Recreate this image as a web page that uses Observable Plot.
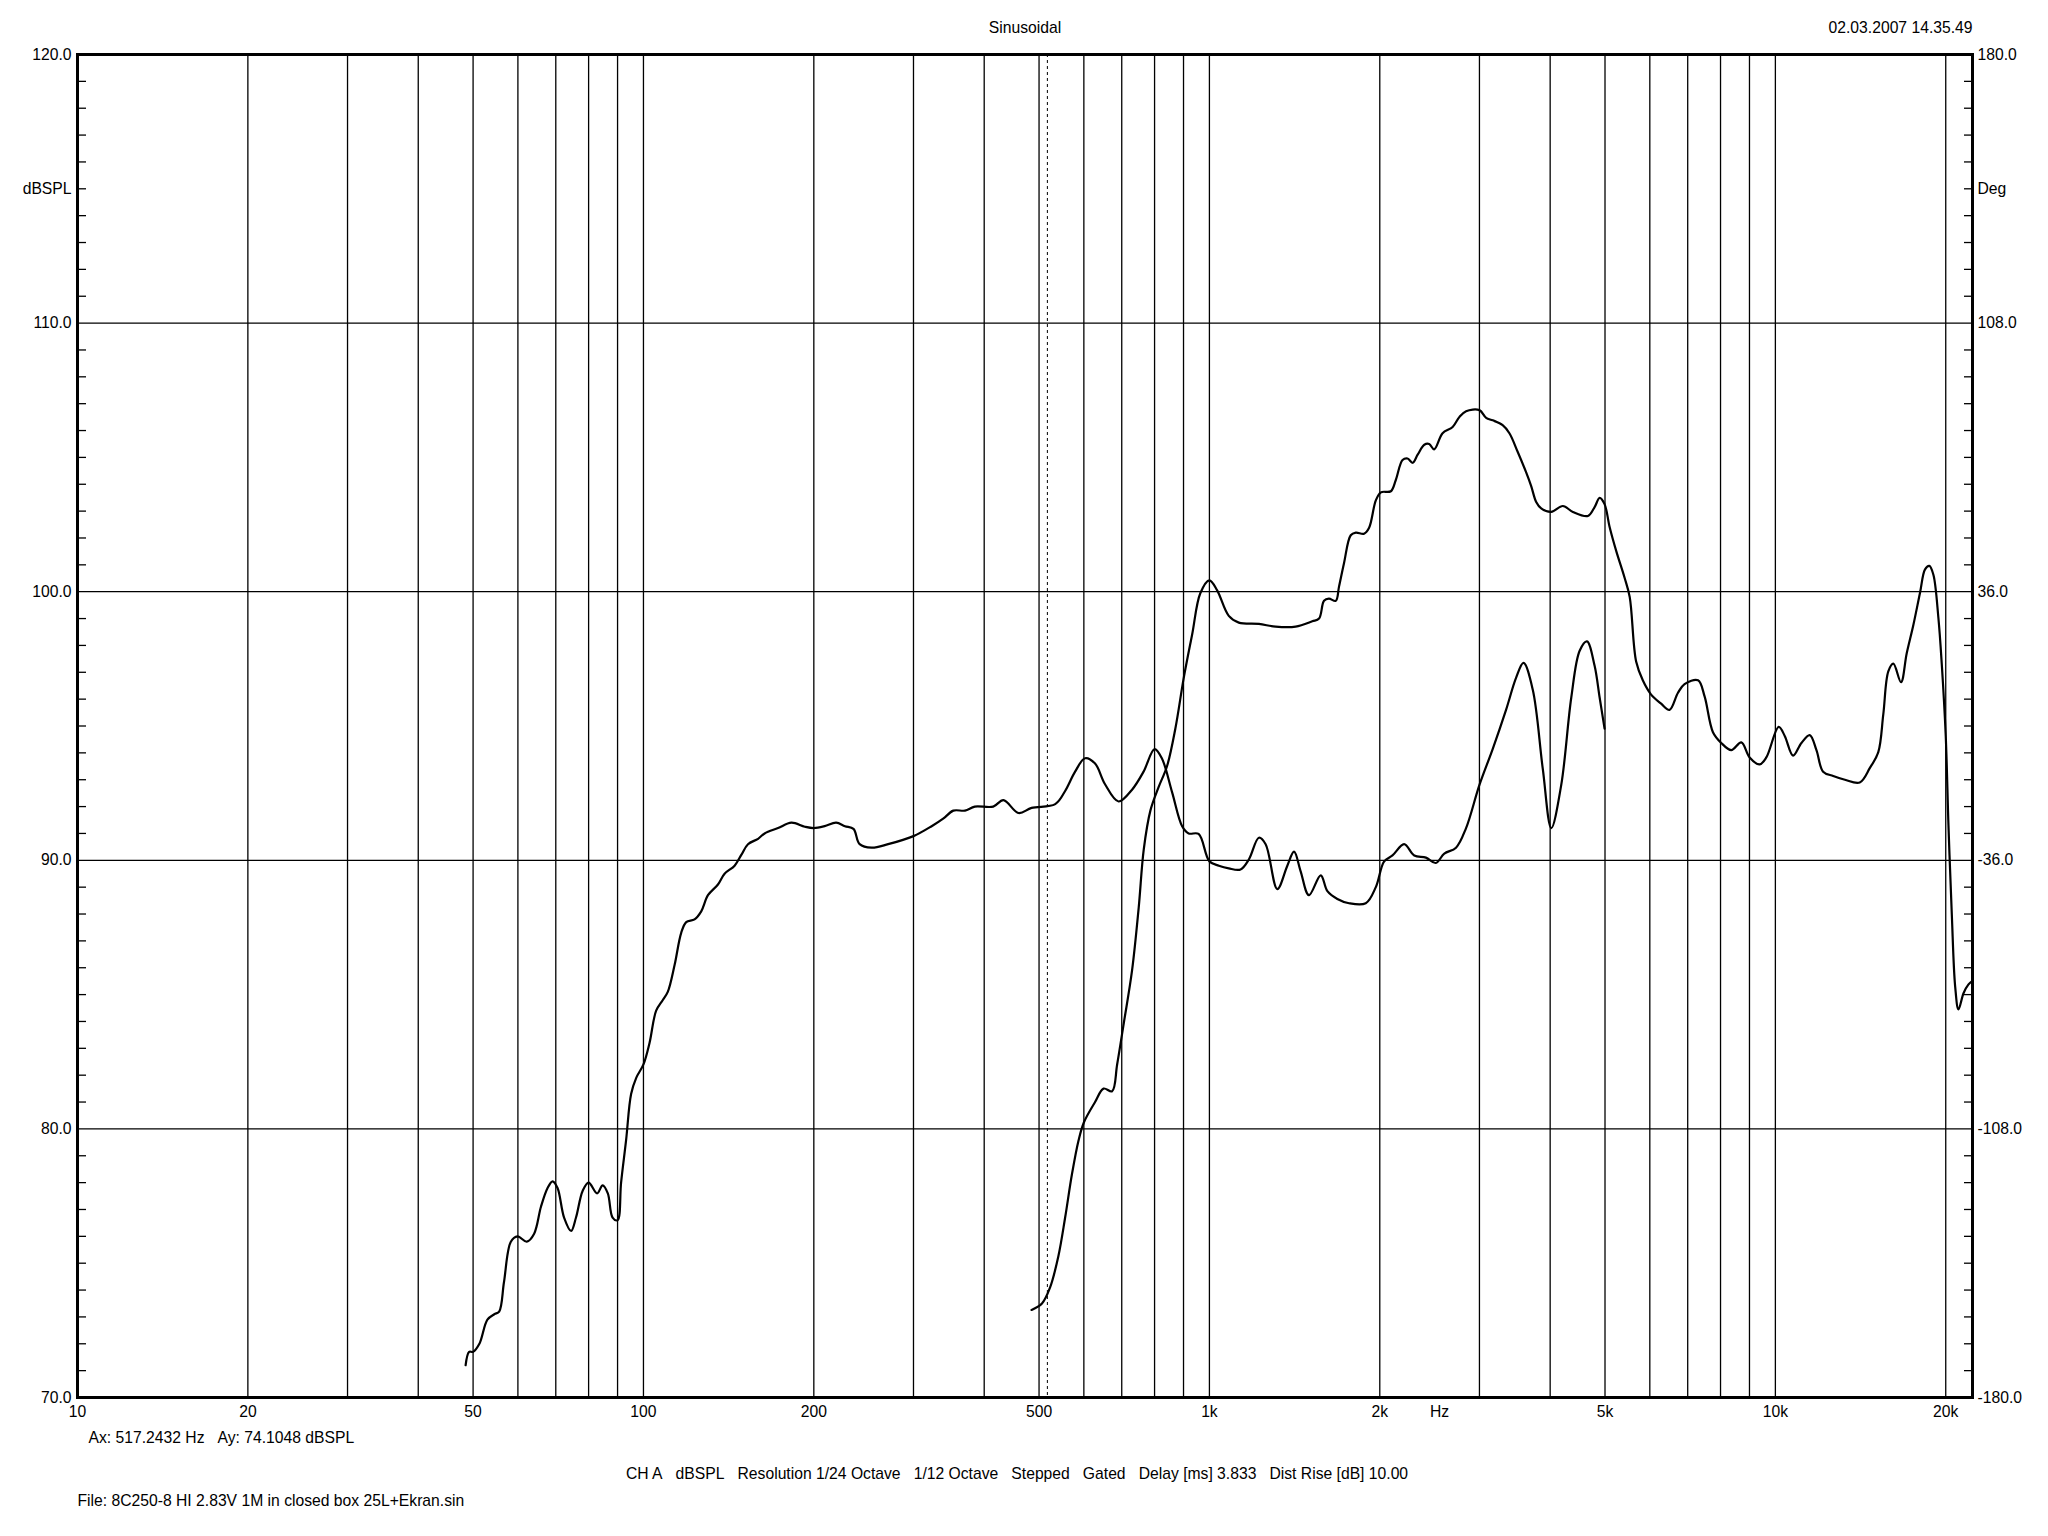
<!DOCTYPE html>
<html>
<head>
<meta charset="utf-8">
<script src="https://cdn.jsdelivr.net/npm/d3@7"></script>
<script src="https://cdn.jsdelivr.net/npm/@observablehq/plot@0.6"></script>
<style>
  body { margin: 0; background: #fff; }
</style>
</head>
<body>
<div id="chart"></div>
<script>
// woofer curve (ends at 5 kHz)
const freqA = [48.5, 49.2, 50, 51.3, 53.0, 54.5, 55.6, 56.7, 58.3, 59.9, 62.2, 64.1, 65.9, 67.7, 69.1, 70.5, 72.4, 74.5, 76.0, 78.1,
  80, 82.8, 84.7, 86.5, 88.2, 90, 91.3, 93.2, 95.1, 97.1, 100, 102.5, 105.3, 108.2, 110.4, 113.5, 116.6, 119.0, 123.1, 126.5,
  130.0, 135.4, 139.1, 144.9, 148.9, 153.0, 159.4, 163.7, 172.9, 182.6, 192.8, 200, 209, 219, 227, 235, 241, 253, 270.6, 300,
  323, 339, 352.8, 370, 385, 415, 432.5, 460, 485, 534, 556, 579, 603, 628, 654, 691, 730, 765, 800, 824,
  859, 895, 919, 957, 1000, 1039, 1082, 1135, 1174, 1223, 1257, 1318, 1373, 1411, 1449, 1499, 1573, 1616, 1683, 1765,
  1889, 1968, 2036, 2106, 2208, 2301, 2413, 2512, 2600, 2727, 2841, 2999, 3167, 3343, 3483, 3589, 3727, 3882, 4018, 4184,
  4359, 4510, 4646, 4793, 4892, 4991];
const splA = [71.2, 71.7, 71.7, 72.0, 72.9, 73.1, 73.2, 74.3, 75.8, 76.0, 75.8, 76.1, 77.1, 77.8, 78.05, 77.8, 76.7, 76.2, 76.7, 77.7,
  78.0, 77.6, 77.9, 77.6, 76.7, 76.6, 78.0, 79.6, 81.3, 81.9, 82.4, 83.2, 84.4, 84.8, 85.1, 86.1, 87.3, 87.7, 87.8, 88.1,
  88.7, 89.1, 89.5, 89.8, 90.2, 90.6, 90.8, 91.0, 91.2, 91.4, 91.25, 91.2, 91.27, 91.4, 91.27, 91.17, 90.6, 90.47, 90.6, 90.9,
  91.27, 91.56, 91.85, 91.85, 92.0, 92.0, 92.24, 91.76, 91.95, 92.09, 92.58, 93.3, 93.8, 93.6, 92.83, 92.19, 92.63, 93.3, 94.14, 93.8,
  92.54, 91.27, 91.0, 90.98, 89.96, 89.8, 89.7, 89.66, 90.03, 90.84, 90.6, 88.93, 89.8, 90.32, 89.6, 88.7, 89.44, 88.85, 88.56, 88.4,
  88.4, 89.0, 89.96, 90.18, 90.6, 90.18, 90.1, 89.9, 90.25, 90.47, 91.2, 92.8, 94.15, 95.6, 96.8, 97.35, 96.35, 93.4, 91.2, 92.8,
  96.06, 97.8, 98.15, 97.24, 96.06, 94.9];

// tweeter curve (starts near 485 Hz)
const freqB = [485, 506, 523, 541, 556, 571.5, 587, 600, 628, 650, 673, 687, 706, 730, 750, 765.5, 786.5, 813.5, 841.5, 870.5,
  901, 932, 964, 1000, 1032, 1082, 1127, 1223, 1309, 1420, 1520, 1562, 1594, 1626, 1672, 1694, 1729, 1777, 1814, 1876,
  1915, 1968, 2009, 2092, 2134, 2194, 2239, 2286, 2333, 2397, 2445, 2495, 2582, 2690, 2764, 2841, 2999, 3083, 3167, 3297,
  3389, 3506, 3628, 3703, 3779, 3857, 4018, 4212, 4387, 4664, 4793, 4892, 4991, 5096, 5236, 5418, 5529, 5675, 5831, 6032,
  6283, 6500, 6725, 6910, 7300, 7498, 7757, 8023, 8358, 8706, 9006, 9381, 9639, 10137, 10388, 10746, 11118, 11502, 11819, 12144,
  12653, 13270, 14095, 14690, 15200, 15512, 15832, 16160, 16672, 17061, 17531, 18013, 18385, 18710, 19020, 19410, 19680, 20000, 20223, 20500,
  20780, 21064, 21500, 21940, 22300];
const splB = [73.26, 73.5, 74.1, 75.27, 76.7, 78.3, 79.56, 80.24, 81.0, 81.5, 81.4, 82.4, 83.95, 85.9, 88.24, 90.4, 91.85, 92.73, 93.5, 94.9,
  96.8, 98.4, 99.95, 100.42, 100.05, 99.1, 98.85, 98.8, 98.7, 98.7, 98.9, 99.0, 99.66, 99.74, 99.66, 100.18, 101.06, 102.1, 102.2, 102.16,
  102.38, 103.4, 103.7, 103.74, 104.15, 104.9, 104.96, 104.8, 105.1, 105.47, 105.5, 105.3, 105.9, 106.13, 106.5, 106.72, 106.76, 106.47, 106.38, 106.2,
  105.9, 105.2, 104.44, 103.93, 103.34, 103.1, 102.97, 103.19, 102.97, 102.82, 103.15, 103.49, 103.26, 102.4, 101.5, 100.5, 99.8, 97.4, 96.7, 96.17,
  95.83, 95.6, 96.23, 96.56, 96.7, 96.1, 94.77, 94.37, 94.1, 94.39, 93.83, 93.57, 93.83, 94.97, 94.63, 93.9, 94.37, 94.66, 94.1, 93.3,
  93.14, 93.0, 92.9, 93.44, 94.03, 95.43, 97.03, 97.32, 96.63, 97.7, 98.76, 99.96, 100.83, 100.96, 100.63, 99.03, 97.3, 94.63, 91.3, 87.98,
  85.31, 84.45, 85.05, 85.38, 85.51];

// axes
const xGrid = [20, 30, 40, 50, 60, 70, 80, 90, 100, 200, 300, 400, 500, 600, 700, 800, 900,
  1000, 2000, 3000, 4000, 5000, 6000, 7000, 8000, 9000, 10000, 20000];
const xTicks = [10, 20, 50, 100, 200, 500, 1000, 2000, 2550, 5000, 10000, 20000];
const xLabels = ["10", "20", "50", "100", "200", "500", "1k", "2k", "Hz", "5k", "10k", "20k"];
const yGrid = [80, 90, 100, 110];
const yTicks = [70, 80, 90, 100, 110, 115, 120];
const leftLabels = ["70.0", "80.0", "90.0", "100.0", "110.0", "dBSPL", "120.0"];
const rightLabels = ["-180.0", "-108.0", "-36.0", "36.0", "108.0", "Deg", "180.0"];
const minorTicks = d3.range(71, 120).filter(d => d % 10 !== 0);
const cursorHz = 517.2432;

const title = "Sinusoidal";
const stamp = "02.03.2007 14.35.49";
const cursorText = "Ax: 517.2432 Hz\u00a0\u00a0\u00a0Ay: 74.1048 dBSPL";
const S = "\u00a0\u00a0\u00a0";
const settingsText = ["CH A", "dBSPL", "Resolution 1/24 Octave", "1/12 Octave", "Stepped", "Gated", "Delay [ms] 3.833", "Dist Rise [dB] 10.00"].join(S);
const fileText = "File: 8C250-8 HI 2.83V 1M in closed box 25L+Ekran.sin";

const dataA = freqA.map((f, i) => ({f, db: splA[i]}));
const dataB = freqB.map((f, i) => ({f, db: splB[i]}));

const fs = 15.7;

const chart = Plot.plot({
  width: 2048,
  height: 1536,
  marginLeft: 77,
  marginRight: 76,
  marginTop: 54,
  marginBottom: 139,
  style: {
    fontFamily: "'Liberation Sans', Arial, sans-serif",
    fontSize: fs + "px",
    color: "#000",
    background: "#fff",
    overflow: "visible",
  },
  x: {type: "log", domain: [10, 22300], axis: null},
  y: {domain: [70, 120]},
  marks: [
    Plot.ruleX(xGrid, {stroke: "#000", strokeWidth: 1.3}),
    Plot.ruleY(yGrid, {stroke: "#000", strokeWidth: 1.3}),
    Plot.ruleX([cursorHz], {stroke: "#000", strokeWidth: 1, strokeDasharray: "3,3"}),
    Plot.axisY({anchor: "left", ticks: minorTicks, tickSize: 9, dx: 9, tickFormat: () => "", label: null, strokeWidth: 1.3}),
    Plot.axisY({anchor: "right", ticks: minorTicks, tickSize: 9, dx: -9, tickFormat: () => "", label: null, strokeWidth: 1.3}),
    Plot.axisY({anchor: "left", ticks: yTicks, tickSize: 0, tickPadding: 6, label: null, fontSize: fs,
      tickFormat: d => leftLabels[yTicks.indexOf(d)]}),
    Plot.axisY({anchor: "right", ticks: yTicks, tickSize: 0, tickPadding: 5, label: null, fontSize: fs,
      tickFormat: d => rightLabels[yTicks.indexOf(d)]}),
    // x labels as a text mark: the log axis would drop the 5s
    Plot.text(xTicks, {x: d => d, text: d => xLabels[xTicks.indexOf(d)], frameAnchor: "bottom", dy: 19, fontSize: fs}),
    Plot.line(dataA, {x: "f", y: "db", stroke: "#000", strokeWidth: 2.2, curve: "catmull-rom"}),
    Plot.line(dataB, {x: "f", y: "db", stroke: "#000", strokeWidth: 2.2, curve: "catmull-rom"}),
    Plot.frame({stroke: "#000", strokeWidth: 3}),
    Plot.text([title], {text: d => d, frameAnchor: "top", dy: -33, fontSize: fs}),
    Plot.text([stamp], {text: d => d, frameAnchor: "top-right", textAnchor: "end", dy: -33, fontSize: fs}),
    Plot.text([cursorText], {text: d => d, frameAnchor: "bottom-left", textAnchor: "start", dx: 11, dy: 45, fontSize: fs}),
    Plot.text([settingsText], {text: d => d, frameAnchor: "bottom", dx: -8, dy: 81, fontSize: fs}),
    Plot.text([fileText], {text: d => d, frameAnchor: "bottom-left", textAnchor: "start", dy: 108, fontSize: fs}),
  ],
});

document.getElementById("chart").appendChild(chart);
</script>
</body>
</html>
